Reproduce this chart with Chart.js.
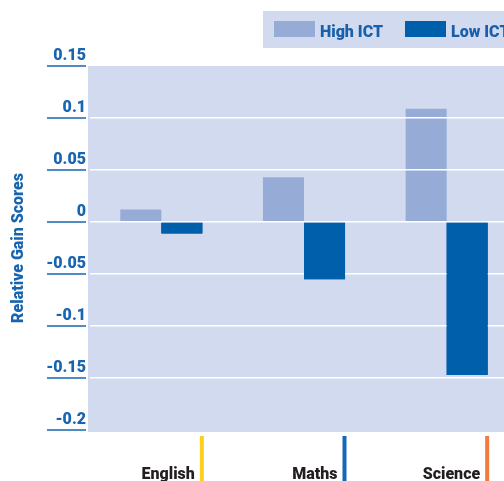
<!DOCTYPE html>
<html>
<head>
<meta charset="utf-8">
<script src="https://cdn.jsdelivr.net/npm/chart.js@4.4.1/dist/chart.umd.min.js"></script>
<style>
  html, body { margin: 0; padding: 0; overflow: hidden; background: #ffffff; }
  #wrap { width: 518px; height: 481px; position: relative; }
</style>
</head>
<body>
<div id="wrap"><canvas id="c"></canvas></div>
<script>
// ---- data ----
const categories = ['English', 'Maths', 'Science'];
const seriesLabels = ['High ICT', 'Low ICT'];
const highICT = [0.012, 0.043, 0.109];
const lowICT = [-0.011, -0.055, -0.147];
const yTickValues = [0.15, 0.1, 0.05, 0, -0.05, -0.1, -0.15, -0.2];
const yTickLabels = ['0.15', '0.1', '0.05', '0', '-0.05', '-0.1', '-0.15', '-0.2'];
const yTitle = 'Relative Gain Scores';

// ---- styles ----
const FONT = 'Roboto, "Liberation Sans", sans-serif';
const FSIZE = 16;
const FWEIGHT = '900';
const BLUE_TEXT = '#1764b0';
const PLOT_BG = '#d2daef';
const LIGHT = '#96acd7';
const DARK = '#005fab';
const CAT_MARK_COLORS = ['#fccf1c', '#1568b8', '#f47b3f'];

const decorPlugin = {
  id: 'decor',
  beforeDraw(chart) {
    const {ctx, chartArea} = chart;
    ctx.save();
    ctx.fillStyle = PLOT_BG;
    ctx.fillRect(chartArea.left - 2, chartArea.top, chartArea.right - chartArea.left + 2, chartArea.bottom - chartArea.top + 2);
    ctx.restore();
  },
  afterDraw(chart) {
    const {ctx, chartArea} = chart;
    // redraw dark series above the grid lines
    const meta = chart.getDatasetMeta(1);
    ctx.save();
    meta.controller.draw();
    ctx.restore();

    // y tick underlines
    const ys = chart.scales.y;
    ctx.save();
    ctx.strokeStyle = BLUE_TEXT;
    ctx.lineWidth = 1.5;
    ys.ticks.forEach((t) => {
      const py = ys.getPixelForValue(t.value);
      ctx.beginPath();
      ctx.moveTo(47, py);
      ctx.lineTo(chartArea.left - 4, py);
      ctx.stroke();
    });
    ctx.restore();

    // category colour marks
    const xs = chart.scales.x;
    ctx.save();
    categories.forEach((c, i) => {
      const px = xs.getPixelForValue(i);
      ctx.fillStyle = CAT_MARK_COLORS[i];
      ctx.fillRect(px + 38.5, chartArea.bottom + 6, 4, chart.height - chartArea.bottom);
    });
    ctx.restore();

    // legend
    ctx.save();
    ctx.fillStyle = PLOT_BG;
    ctx.fillRect(263, 11, chart.width - 263, 37);
    const swatchX = [274, 405];
    ctx.font = FWEIGHT + ' ' + FSIZE + 'px ' + FONT;
    ctx.textBaseline = 'alphabetic';
    ctx.textAlign = 'left';
    chart.data.datasets.forEach((ds, i) => {
      ctx.fillStyle = ds.backgroundColor;
      ctx.fillRect(swatchX[i], 21, 41, 16);
      ctx.fillStyle = '#1a5fa9';
      ctx.fillText(ds.label, swatchX[i] + 46, 36.5);
    });
    ctx.restore();
  }
};

new Chart(document.getElementById('c'), {
  type: 'bar',
  data: {
    labels: categories,
    datasets: [
      { label: seriesLabels[0], data: highICT, backgroundColor: LIGHT, borderWidth: 0,
        barPercentage: 1, categoryPercentage: 0.5754 },
      { label: seriesLabels[1], data: lowICT, backgroundColor: DARK, borderWidth: 0,
        barPercentage: 1, categoryPercentage: 0.5754 }
    ]
  },
  options: {
    responsive: true,
    maintainAspectRatio: false,
    devicePixelRatio: 1,
    animation: false,
    layout: { padding: { top: 66, left: 0, right: 0, bottom: 0 } },
    plugins: {
      legend: { display: false },
      tooltip: { enabled: false },
      title: { display: false }
    },
    scales: {
      x: {
        type: 'category',
        offset: true,
        grid: { display: false, drawTicks: false },
        border: { display: false },
        ticks: {
          color: '#231f20',
          font: { family: FONT, size: FSIZE, weight: FWEIGHT },
          padding: 35,
          labelOffset: 33.5,
          align: 'end',
          autoSkip: false,
          maxRotation: 0,
          minRotation: 0
        },
        afterFit(scale) { scale.height = 51; }
      },
      y: {
        min: -0.2,
        max: 0.15,
        afterBuildTicks(scale) {
          scale.ticks = yTickValues.slice().reverse().map(v => ({ value: v }));
        },
        grid: {
          z: 1,
          drawTicks: false,
          lineWidth: 1.6,
          color(ctx) {
            const v = ctx.tick ? ctx.tick.value : null;
            if (v === null) return 'rgba(0,0,0,0)';
            if (Math.abs(v - 0.15) < 1e-9 || Math.abs(v + 0.2) < 1e-9) return 'rgba(0,0,0,0)';
            return '#ffffff';
          }
        },
        border: { display: false },
        ticks: {
          color: BLUE_TEXT,
          font: { family: FONT, size: FSIZE, weight: FWEIGHT },
          padding: 4,
          labelOffset: -10.5,
          callback(value) {
            const k = yTickValues.findIndex(v => Math.abs(v - value) < 1e-9);
            return k >= 0 ? yTickLabels[k] : '';
          }
        },
        title: {
          display: true,
          text: yTitle,
          color: BLUE_TEXT,
          font: { family: FONT, size: FSIZE, weight: FWEIGHT },
          padding: { top: 9, bottom: 0 }
        },
        afterFit(scale) { scale.width = 90; }
      }
    }
  },
  plugins: [decorPlugin]
});
</script>
</body>
</html>
